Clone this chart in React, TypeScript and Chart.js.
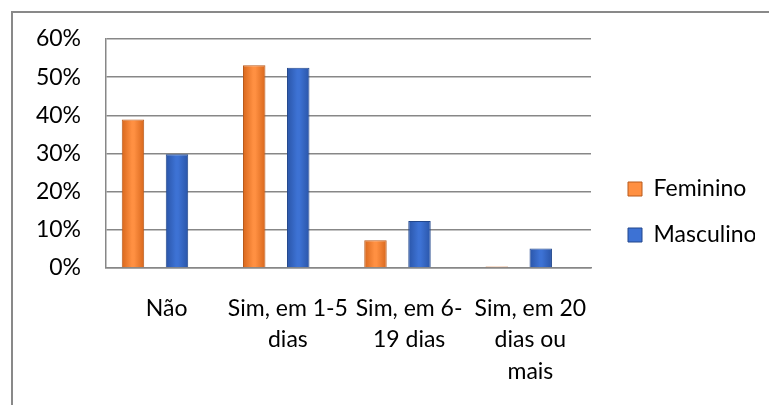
import { useEffect, useRef } from "react";
import { Chart, registerables } from "chart.js";

Chart.register(...registerables);

// ---- data ----
const categories: (string | string[])[] = [
  "Não",
  ["Sim, em 1-5", "dias"],
  ["Sim, em 6-", "19 dias"],
  ["Sim, em 20", "dias ou", "mais"],
];
const seriesNames = ["Feminino", "Masculino"];
const femininoValues = [38.9, 53.1, 7.3, 0.4];
const masculinoValues = [29.8, 52.5, 12.3, 5.1];
const yTickValues = [0, 10, 20, 30, 40, 50, 60];

// ---- style ----
const FONT = "Lato, 'Liberation Sans', sans-serif";
const GRID = "#878787";
const ORANGE = ["#d8671c", "#ff9042", "#b85a1c"]; // edge, mid, border
const BLUE = ["#2a55a8", "#3d72d4", "#22478c"];
const CAT_PCT = 0.726;
const BAR_PCT = 0.51;
const X_MIN = -0.404; // bars sit left of label centres (Excel 3D look)
const X_MAX = 3.596;
const LABEL_SHIFT = 0.096;

const makeFill = (c: string[]) => (ctx: any) => {
  const chart = ctx.chart;
  const xs = chart.scales?.x;
  if (!xs || ctx.type !== "data") return c[1];
  const catW = Math.abs(xs.getPixelForValue(1) - xs.getPixelForValue(0));
  if (!isFinite(catW) || catW === 0) return c[1];
  const slot = (catW * CAT_PCT) / 2;
  const center = xs.getPixelForValue(ctx.dataIndex) + (ctx.datasetIndex - 0.5) * slot;
  const half = (slot * BAR_PCT) / 2;
  const g = chart.ctx.createLinearGradient(center - half, 0, center + half, 0);
  g.addColorStop(0, c[0]);
  g.addColorStop(0.45, c[1]);
  g.addColorStop(0.55, c[1]);
  g.addColorStop(1, c[0]);
  return g;
};

export default function App() {
  const ref = useRef<HTMLCanvasElement>(null);
  useEffect(() => {
    Chart.defaults.font.family = FONT;
    Chart.defaults.font.size = 23;
    Chart.defaults.color = "#000";
    const colors = [ORANGE, BLUE];
    const chart = new Chart(ref.current!, {
      type: "bar",
      data: {
        datasets: [femininoValues, masculinoValues].map((vals, di) => ({
          label: seriesNames[di],
          data: vals.map((v, i) => ({ x: i, y: v })),
          backgroundColor: makeFill(colors[di]),
          borderColor: colors[di][2],
          borderWidth: 1,
          categoryPercentage: CAT_PCT,
          barPercentage: BAR_PCT,
        })),
      },
      options: {
        animation: false,
        responsive: false,
        devicePixelRatio: 1,
        layout: { padding: { left: 0, top: 39, right: 14, bottom: 20 } },
        scales: {
          x: {
            type: "linear",
            position: "bottom",
            offset: false,
            min: X_MIN,
            max: X_MAX,
            afterBuildTicks: (s: any) => {
              s.ticks = categories.map((_, i) => ({ value: i + LABEL_SHIFT }));
            },
            afterFit: (s: any) => {
              s.height = 117;
            },
            grid: { display: false, drawTicks: false, offset: false },
            border: { display: true, color: GRID, width: 1.5 },
            ticks: {
              autoSkip: false,
              maxRotation: 0,
              minRotation: 0,
              padding: 25,
              font: { size: 23, lineHeight: 1.36 },
              callback: (_v: any, i: number) => categories[i] as any,
            },
          },
          y: {
            min: 0,
            max: 60,
            afterBuildTicks: (s: any) => {
              s.ticks = yTickValues.map((v) => ({ value: v }));
            },
            afterFit: (s: any) => {
              s.width = 106;
            },
            grid: { color: GRID, lineWidth: 1.5, drawTicks: false },
            border: { display: true, color: GRID, width: 1.5 },
            ticks: { padding: 25, callback: (v: any) => v + "%" },
          },
          yRight: {
            type: "linear",
            position: "right",
            display: true,
            grid: { display: false, drawTicks: false },
            border: { display: false },
            ticks: { display: false },
            afterFit: (s: any) => {
              s.width = 14;
            },
          },
        },
        plugins: {
          legend: {
            position: "right",
            maxWidth: 150,
            labels: {
              boxWidth: 14,
              boxHeight: 14,
              padding: 23,
              font: { size: 23 },
              generateLabels: () =>
                seriesNames.map((name, di) => ({
                  text: name,
                  fillStyle: colors[di][1],
                  strokeStyle: colors[di][2],
                  lineWidth: 1,
                  datasetIndex: di,
                  hidden: false,
                })),
            },
          },
          tooltip: { enabled: false },
        },
      },
    });
    return () => chart.destroy();
  }, []);
  return (
    <div
      style={{
        position: "absolute",
        left: 0,
        top: 0,
        width: 769,
        height: 405,
        overflow: "hidden",
        background: "#fff",
      }}
    >
      <div
        style={{
          position: "absolute",
          left: 11,
          top: 11,
          width: 900,
          height: 600,
          border: "2px solid #898989",
          boxSizing: "border-box",
        }}
      />
      <canvas
        ref={ref}
        width={769}
        height={405}
        style={{ position: "absolute", left: 0, top: 0 }}
      />
    </div>
  );
}
